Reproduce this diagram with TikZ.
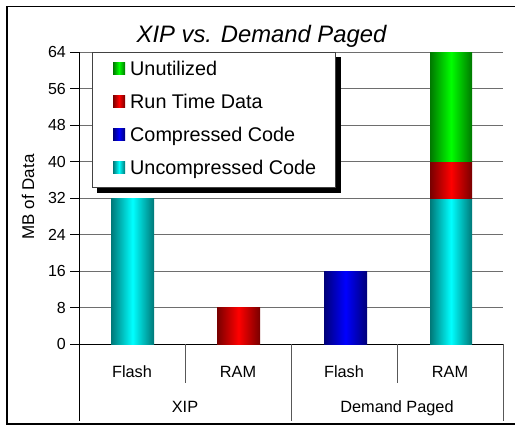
\documentclass[tikz,border=0pt]{standalone}
\usepackage{fontspec}
\setmainfont{Liberation Sans}
\definecolor{tealdk}{RGB}{0,120,120}
\definecolor{cyanlt}{RGB}{0,255,255}
\definecolor{reddk}{RGB}{120,0,0}
\definecolor{redlt}{RGB}{255,0,0}
\definecolor{bluedk}{RGB}{0,0,120}
\definecolor{bluelt}{RGB}{0,0,255}
\definecolor{greendk}{RGB}{0,120,0}
\definecolor{greenlt}{RGB}{0,255,0}
\definecolor{gridgray}{RGB}{110,110,110}
\begin{document}
\begin{tikzpicture}[x=1pt,y=-1pt,
  gridline/.style={draw=gridgray,line width=0.9pt},
  axisline/.style={draw=black,line width=0.9pt},
  divider/.style={draw=gridgray!80!black,line width=0.9pt},
  ticklbl/.style={anchor=east,inner sep=0pt,font=\fontsize{16}{18}\selectfont},
  catlbl/.style={anchor=base,inner sep=0pt,font=\fontsize{16.3}{18}\selectfont},
  legtext/.style={anchor=base west,inner sep=0pt,font=\fontsize{19.8}{22}\selectfont},
  cyanfill/.style={left color=tealdk,right color=tealdk,middle color=cyanlt},
  redfill/.style={left color=reddk,right color=reddk,middle color=redlt},
  bluefill/.style={left color=bluedk,right color=bluedk,middle color=bluelt},
  greenfill/.style={left color=greendk,right color=greendk,middle color=greenlt},
]
\useasboundingbox (0,0) rectangle (515,426);
% value v (MB) sits at y = 344 - 4.5625 v
\def\vy#1{(344-4.5625*#1)}

% chart frame (open on the right)
\draw[line width=1.6pt] (516,6.5) -- (6.8,6.5) -- (6.8,424) -- (516,424);

% horizontal gridlines
\foreach \v in {8,16,...,64}
  \draw[gridline] (79,{344-4.5625*\v}) -- (503,{344-4.5625*\v});

% value axis with ticks and numbers
\foreach \v in {0,8,...,64}{
  \draw[axisline] (70,{344-4.5625*\v}) -- (79,{344-4.5625*\v});
  \node[ticklbl] (tick\v) at (66,{344-4.5625*\v}) {\v};
}
\draw[axisline] (79,52) -- (79,421);
\draw[axisline] (79,344) -- (503,344);

% category dividers
\draw[divider] (185,344) -- (185,383);
\draw[divider] (397,344) -- (397,383);
\draw[divider] (291,344) -- (291,421);
\draw[divider] (503,344) -- (503,421);

% bars
\shade[cyanfill]  (111,344) rectangle (154,{344-4.5625*32});
\shade[redfill]   (217,344) rectangle (260,{344-4.5625*8});
\shade[bluefill]  (324,344) rectangle (367,{344-4.5625*16});
\shade[cyanfill]  (430,344) rectangle (472,{344-4.5625*32});
\shade[redfill]   (430,{344-4.5625*32}) rectangle (472,{344-4.5625*40});
\shade[greenfill] (430,{344-4.5625*40}) rectangle (472,{344-4.5625*64});

% category labels
\node[catlbl] (xflash) at (132,377) {Flash};
\node[catlbl] (xram)   at (238,377) {RAM};
\node[catlbl] (dflash) at (344,377) {Flash};
\node[catlbl] (dram)   at (450,377) {RAM};
\node[catlbl] (xip)    at (185,412) {XIP};
\node[catlbl] (dp)     at (397,412) {Demand Paged};

% axis title and chart title
\node[rotate=90,inner sep=0pt,font=\fontsize{17}{20}\selectfont] (ytitle) at (28,197) {MB of Data};
\node[anchor=base,inner sep=0pt,font=\fontsize{23.8}{27}\itshape] (title) at (261.5,42) {XIP vs. Demand Paged};

% legend with drop shadow
\fill[black] (97,57) rectangle (341,193);
\draw[fill=white,draw=gridgray!60!black,line width=0.8pt] (92,52) rectangle (335,187);
\shade[greenfill] (113,62.5)  rectangle (125,74.5);
\shade[redfill]   (113,95.5)  rectangle (125,107.5);
\shade[bluefill]  (113,128.5) rectangle (125,140.5);
\shade[cyanfill]  (113,161.5) rectangle (125,173.5);
\node[legtext] (lg1) at (130,75.5)  {Unutilized};
\node[legtext] (lg2) at (130,108.5) {Run Time Data};
\node[legtext] (lg3) at (130,141.5) {Compressed Code};
\node[legtext] (lg4) at (130,174.5) {Uncompressed Code};
\end{tikzpicture}
\end{document}
